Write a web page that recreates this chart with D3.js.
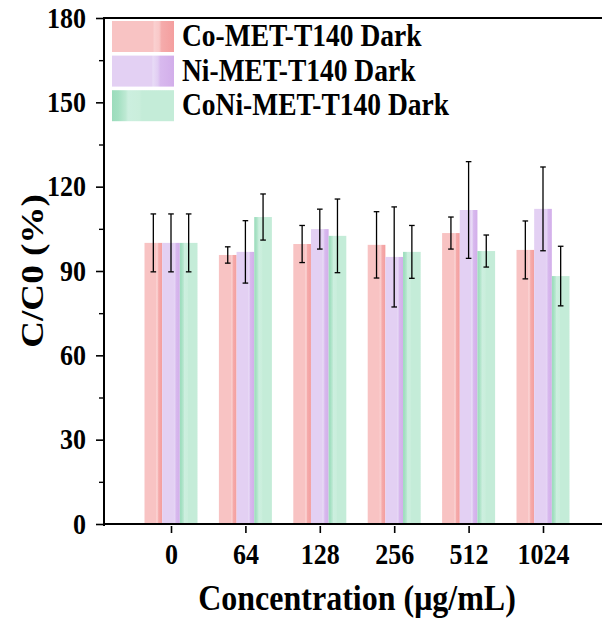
<!DOCTYPE html>
<meta charset="utf-8">
<style>
  body { margin:0; background:#fff; }
  text { font-family: "Liberation Serif", "Times New Roman", serif; font-weight: bold; fill:#000; }
</style>
<svg width="602" height="628"></svg>
<script src="https://d3js.org/d3.v7.min.js"></script>
<script>

var categories = ["0", "64", "128", "256", "512", "1024"];
var seriesNames = ["Co-MET-T140 Dark", "Ni-MET-T140 Dark", "CoNi-MET-T140 Dark"];
var coVals = [100, 95.7, 99.6, 99.3, 103.5, 97.5];
var coErr = [10.3, 2.9, 6.6, 11.8, 5.7, 10.3];
var niVals = [100, 96.8, 104.9, 95.0, 111.7, 112.1];
var niErr = [10.3, 11.1, 7.1, 17.8, 17.2, 14.9];
var coniVals = [100, 109.2, 102.5, 96.8, 97.1, 88.2];
var coniErr = [10.3, 8.2, 13.1, 9.4, 5.7, 10.6];
var yTicks = [0, 30, 60, 90, 120, 150, 180];

var svg = d3.select("svg"),
    plotLeft = 104, plotTop = 18, plotBottom = 524, plotRight = 602,
    sy = 1.12; // original figure is a bit taller than wide

var values = [coVals, niVals, coniVals],
    errs = [coErr, niErr, coniErr];

// gradient stripes for each series (light body + darker edge)
var grads = [
  [[0, "#f8c3c3"], [0.66, "#f8c3c3"], [0.68, "#fad0d0"], [0.76, "#f9c8c8"], [0.8, "#f5abab"], [1, "#f49e9e"]],
  [[0, "#e3d0f3"], [0.64, "#e3d0f3"], [0.66, "#e8dbf6"], [0.74, "#e1cdf3"], [0.78, "#d8b9ee"], [1, "#d2aeea"]],
  [[0, "#9cdcbc"], [0.1, "#a4e0c2"], [0.22, "#bde9d3"], [0.26, "#ccefdf"], [0.44, "#caeedc"], [0.48, "#c4ecd8"], [1, "#c4ecd8"]]
];

var defs = svg.append("defs");
grads.forEach(function(stops, i) {
  var lg = defs.append("linearGradient")
      .attr("id", "g" + i)
      .attr("x1", 0).attr("x2", 1).attr("y1", 0).attr("y2", 0);
  stops.forEach(function(s) {
    lg.append("stop").attr("offset", s[0]).attr("stop-color", s[1]);
  });
});

var x = d3.scalePoint()
    .domain(categories)
    .range([171, 543]);

var xs = d3.scaleBand()
    .domain([0, 1, 2])
    .range([-26.5, 26.5]);

var y = d3.scaleLinear()
    .domain([0, 180])
    .range([plotBottom, plotTop]);

// bars
var groups = svg.append("g").selectAll("g")
    .data(categories)
    .enter().append("g")
    .attr("transform", function(d) { return "translate(" + x(d) + ",0)"; });

groups.each(function(c, ci) {
  var g = d3.select(this);
  [0, 1, 2].forEach(function(s) {
    g.append("rect")
      .attr("x", xs(s))
      .attr("width", xs.bandwidth())
      .attr("y", y(values[s][ci]))
      .attr("height", y(0) - y(values[s][ci]))
      .attr("fill", "url(#g" + s + ")");
  });
  [0, 1, 2].forEach(function(s) {
    var cx = xs(s) + xs.bandwidth() / 2,
        hi = y(values[s][ci] + errs[s][ci]),
        lo = y(values[s][ci] - errs[s][ci]);
    g.append("line").attr("x1", cx).attr("x2", cx).attr("y1", hi).attr("y2", lo)
      .attr("stroke", "#000").attr("stroke-width", 1.3);
    [hi, lo].forEach(function(v) {
      g.append("line").attr("x1", cx - 2.8).attr("x2", cx + 2.8).attr("y1", v).attr("y2", v)
        .attr("stroke", "#000").attr("stroke-width", 1.3);
    });
  });
});

// y axis
var yAxis = svg.append("g")
    .attr("transform", "translate(" + plotLeft + ",0)")
    .call(d3.axisLeft(y).tickValues(yTicks).tickSize(8).tickPadding(10));
yAxis.select(".domain").attr("stroke-width", 2).attr("d", "M0," + (plotBottom + 2) + "V" + plotTop);
yAxis.selectAll(".tick line").attr("stroke-width", 1.6);
yAxis.selectAll(".tick text")
    .style("font-size", "26px").attr("fill", "#000")
    .attr("transform", "scale(1," + sy + ")");

svg.append("g")
    .attr("transform", "translate(" + plotLeft + ",0)")
    .call(d3.axisLeft(y).tickValues([15, 45, 75, 105, 135, 165]).tickSize(5).tickFormat(""))
    .call(function(g) { g.select(".domain").remove(); })
    .selectAll(".tick line").attr("stroke-width", 1.4);

// top frame line
svg.append("line")
    .attr("x1", plotLeft - 1).attr("x2", plotRight).attr("y1", plotTop).attr("y2", plotTop)
    .attr("stroke", "#000").attr("stroke-width", 2);

// x axis
var xAxis = svg.append("g")
    .attr("transform", "translate(0," + plotBottom + ")")
    .call(d3.axisBottom(x).tickSize(9).tickPadding(8));
xAxis.select(".domain").attr("stroke-width", 2).attr("d", "M" + (plotLeft - 1) + ",0H" + plotRight);
xAxis.selectAll(".tick line").attr("stroke-width", 1.6).attr("y1", 2);
xAxis.selectAll(".tick text")
    .style("font-size", "26px").attr("fill", "#000")
    .attr("transform", "scale(1," + sy + ")");

// axis titles
svg.append("text")
    .attr("transform", "translate(43,271)scale(1,1.16)rotate(-90)")
    .attr("text-anchor", "middle")
    .style("font-size", "32px")
    .text("C/C0 (%)");

svg.append("text")
    .attr("transform", "translate(357,610)scale(1," + sy + ")")
    .attr("text-anchor", "middle")
    .style("font-size", "32px")
    .text("Concentration (μg/mL)");

// legend
var legend = svg.append("g").selectAll("g")
    .data(seriesNames)
    .enter().append("g")
    .attr("transform", function(d, i) { return "translate(112," + (21 + i * 34.6) + ")"; });

legend.append("rect")
    .attr("width", 62).attr("height", 31)
    .attr("fill", function(d, i) { return "url(#g" + i + ")"; });

legend.append("text")
    .attr("transform", "translate(70,25)scale(1," + sy + ")")
    .style("font-size", "27.5px")
    .text(function(d) { return d; });

</script>
